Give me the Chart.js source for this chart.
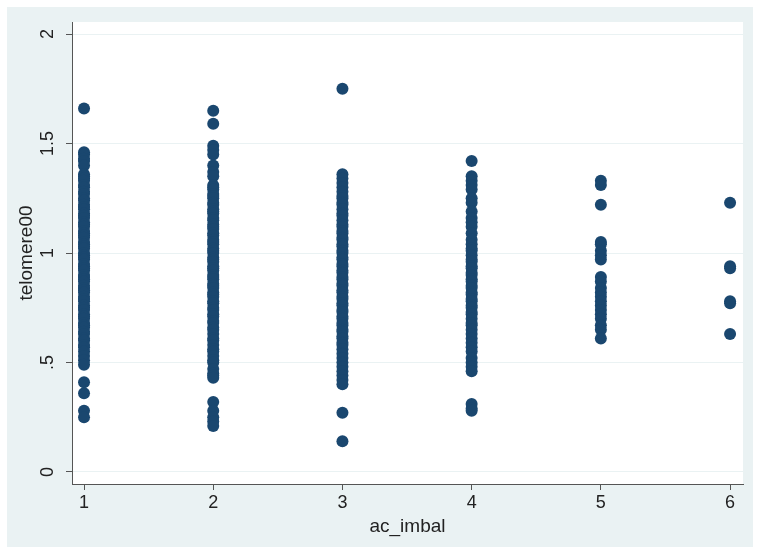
<!DOCTYPE html>
<html>
<head>
<meta charset="utf-8">
<script src="https://cdn.jsdelivr.net/npm/chart.js@4.4.0/dist/chart.umd.min.js"></script>
<style>
  html, body { margin: 0; padding: 0; background: #ffffff; }
  #wrap { width: 762px; height: 554px; }
</style>
</head>
<body>
<div id="wrap"><canvas id="scatter" width="762" height="554"></canvas></div>
<script>
// valeurs, une liste par catégorie de ac_imbal
const acImbalCategories = [1, 2, 3, 4, 5, 6];

const telomereAc1 = [1.66, 1.46, 1.45, 1.43, 1.42, 1.40, 1.36, 1.35, 1.34, 1.33, 1.31, 1.30, 1.28, 1.27, 1.25, 1.24,
  1.22, 1.21, 1.20, 1.18, 1.17, 1.16, 1.14, 1.13, 1.12, 1.10, 1.09, 1.08, 1.07, 1.05, 1.04, 1.03, 1.02, 1.00, 0.99,
  0.98, 0.97, 0.95, 0.94, 0.93, 0.92, 0.90, 0.89, 0.88, 0.87, 0.85, 0.84, 0.83, 0.82, 0.80, 0.79, 0.78, 0.76, 0.75,
  0.74, 0.72, 0.71, 0.70, 0.68, 0.67, 0.66, 0.64, 0.63, 0.61, 0.60, 0.58, 0.57, 0.55, 0.53, 0.51, 0.49, 0.41, 0.36,
  0.28, 0.25];
const telomereAc2 = [1.65, 1.59, 1.49, 1.47, 1.45, 1.40, 1.37, 1.35, 1.31, 1.30, 1.29, 1.27, 1.26, 1.25, 1.23, 1.22,
  1.20, 1.19, 1.18, 1.16, 1.15, 1.13, 1.12, 1.11, 1.09, 1.08, 1.06, 1.05, 1.04, 1.02, 1.01, 1.00, 0.98, 0.97, 0.96,
  0.94, 0.93, 0.92, 0.90, 0.89, 0.88, 0.86, 0.85, 0.84, 0.82, 0.81, 0.80, 0.78, 0.77, 0.75, 0.74, 0.72, 0.71, 0.69,
  0.68, 0.66, 0.65, 0.63, 0.61, 0.60, 0.58, 0.56, 0.55, 0.53, 0.51, 0.50, 0.47, 0.45, 0.44, 0.43, 0.32, 0.28, 0.25,
  0.23, 0.21];
const telomereAc3 = [1.75, 1.36, 1.34, 1.32, 1.30, 1.28, 1.26, 1.25, 1.23, 1.22, 1.20, 1.18, 1.17, 1.15, 1.13, 1.12,
  1.10, 1.09, 1.07, 1.06, 1.04, 1.03, 1.01, 1.00, 0.98, 0.97, 0.95, 0.94, 0.92, 0.91, 0.89, 0.88, 0.86, 0.85, 0.83,
  0.82, 0.80, 0.79, 0.77, 0.76, 0.74, 0.73, 0.71, 0.70, 0.68, 0.67, 0.65, 0.64, 0.62, 0.61, 0.59, 0.58, 0.56, 0.54,
  0.52, 0.50, 0.48, 0.46, 0.44, 0.42, 0.40, 0.27, 0.14];
const telomereAc4 = [1.42, 1.35, 1.33, 1.31, 1.29, 1.25, 1.23, 1.19, 1.16, 1.14, 1.12, 1.09, 1.06, 1.04, 1.02, 1.01,
  0.99, 0.97, 0.96, 0.94, 0.93, 0.91, 0.90, 0.88, 0.87, 0.85, 0.84, 0.82, 0.81, 0.79, 0.78, 0.76, 0.75, 0.73, 0.72,
  0.70, 0.68, 0.67, 0.65, 0.63, 0.61, 0.59, 0.57, 0.55, 0.52, 0.50, 0.48, 0.46, 0.31, 0.29, 0.28];
const telomereAc5 = [1.33, 1.31, 1.22, 1.05, 1.04, 1.01, 0.99, 0.97, 0.89, 0.87, 0.84, 0.82, 0.80, 0.78, 0.76, 0.74,
  0.72, 0.70, 0.67, 0.65, 0.61];
const telomereAc6 = [1.23, 0.94, 0.93, 0.78, 0.77, 0.63];

const xTicks = [1, 2, 3, 4, 5, 6];
const yTicks = [0, 0.5, 1, 1.5, 2];
const yTickLabels = ['0', '.5', '1', '1.5', '2'];

// construire les points (x, y) à partir des listes
const telomereLists = [telomereAc1, telomereAc2, telomereAc3, telomereAc4, telomereAc5, telomereAc6];
const points = [];
telomereLists.forEach((list, i) => {
    list.forEach(v => points.push({ x: acImbalCategories[i], y: v }));
});

const fontFamily = 'Arial, "Liberation Sans", sans-serif';
const tickFont = { family: fontFamily, size: 18 };
const titleFont = { family: fontFamily, size: 19 };

// fond bleuté de Stata autour de la zone de tracé blanche
const stataBackground = {
    id: 'stataBackground',
    beforeDraw(chart) {
        const ctx = chart.ctx;
        const a = chart.chartArea;
        ctx.save();
        ctx.fillStyle = '#ffffff';
        ctx.fillRect(0, 0, chart.width, chart.height);
        ctx.fillStyle = '#eaf2f3';
        ctx.fillRect(7, 7, 746, 540);
        ctx.fillStyle = '#ffffff';
        ctx.fillRect(a.left, a.top, a.right - a.left, a.bottom - a.top);
        ctx.restore();
    }
};

// étiquettes de l'axe y tournées à 90°, centrées sur chaque graduation
const verticalYLabels = {
    id: 'verticalYLabels',
    afterDraw(chart) {
        const ctx = chart.ctx;
        const yScale = chart.scales.y;
        ctx.save();
        ctx.font = tickFont.size + 'px ' + fontFamily;
        ctx.fillStyle = '#222222';
        ctx.textAlign = 'center';
        ctx.textBaseline = 'middle';
        yTicks.forEach((v, i) => {
            const py = yScale.getPixelForValue(v);
            ctx.save();
            ctx.translate(48, py);
            ctx.rotate(-Math.PI / 2);
            ctx.fillText(yTickLabels[i], 0, 0);
            ctx.restore();
        });
        ctx.restore();
    }
};

new Chart(document.getElementById('scatter'), {
    type: 'scatter',
    data: {
        datasets: [{
            label: 'telomere00',
            data: points,
            backgroundColor: '#1a476f',
            borderWidth: 0,
            pointRadius: 6,
            pointHoverRadius: 6
        }]
    },
    options: {
        responsive: false,
        animation: false,
        layout: { padding: { left: 0, top: 22, right: 19, bottom: 0 } },
        plugins: {
            legend: { display: false },
            tooltip: { enabled: false }
        },
        scales: {
            x: {
                type: 'linear',
                min: 0.907,
                max: 6.10,
                afterBuildTicks: scale => { scale.ticks = xTicks.map(v => ({ value: v })); },
                afterFit: scale => { scale.height = 70; },
                grid: { drawOnChartArea: false, tickLength: 6, tickColor: '#555555' },
                border: { color: '#555555', width: 1 },
                ticks: { font: tickFont, color: '#222222', padding: 2, maxRotation: 0 },
                title: { display: true, text: 'ac_imbal', font: titleFont, color: '#222222', padding: { top: 2, bottom: 16 } }
            },
            y: {
                type: 'linear',
                min: -0.055,
                max: 2.055,
                afterBuildTicks: scale => { scale.ticks = yTicks.map(v => ({ value: v })); },
                afterFit: scale => { scale.width = 72; },
                grid: { color: '#eaf2f3', lineWidth: 1, tickLength: 6, tickColor: '#555555' },
                border: { color: '#555555', width: 1 },
                ticks: { display: false },
                title: { display: true, text: 'telomere00', font: titleFont, color: '#222222', padding: { top: 15, bottom: 0 } }
            }
        }
    },
    plugins: [stataBackground, verticalYLabels]
});
</script>
</body>
</html>
